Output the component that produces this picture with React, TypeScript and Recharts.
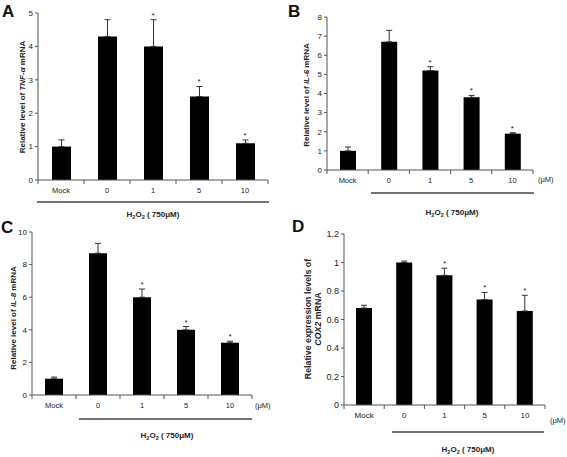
import React from "react";
import {ComposedChart, Bar, ErrorBar, Scatter, XAxis, YAxis} from "recharts";

// x categories (H2O2 750uM + inhibitor dose in uM)
const categories = ["Mock", "0", "1", "5", "10"];
const significant = [false, false, true, true, true];

// panel A - TNF-alpha
const tnfMean = [1.0, 4.3, 4.0, 2.5, 1.1];
const tnfErr = [0.2, 0.5, 0.8, 0.3, 0.1];
// panel B - IL-6
const il6Mean = [1.0, 6.7, 5.2, 3.8, 1.9];
const il6Err = [0.2, 0.6, 0.2, 0.1, 0.05];
// panel C - IL-8
const il8Mean = [1.0, 8.7, 6.0, 4.0, 3.2];
const il8Err = [0.1, 0.6, 0.5, 0.2, 0.1];
// panel D - COX2
const cox2Mean = [0.68, 1.0, 0.91, 0.74, 0.66];
const cox2Err = [0.02, 0.01, 0.05, 0.05, 0.11];

const ticksA = [0, 1, 2, 3, 4, 5];
const ticksB = [0, 1, 2, 3, 4, 5, 6, 7, 8];
const ticksC = [0, 2, 4, 6, 8, 10];
const ticksD = [0, 0.2, 0.4, 0.6, 0.8, 1, 1.2];

const FONT = "'Liberation Sans', Arial, sans-serif";
const AXIS = "#555";

const buildRows = (mean: number[], err: number[]) =>
  categories.map((c, i) => ({
    cat: c,
    mean: mean[i],
    err: [0, err[i]],
    star: significant[i] ? mean[i] + err[i] : null,
  }));

const CatTick = (props: any) => {
  const {x, y, payload, index, visibleTicksCount, width, fontSize} = props;
  const half = payload.offset || width / visibleTicksCount / 2;
  const axisY = y - 10;
  return (
    <g>
      <line x1={x - half} x2={x - half} y1={axisY} y2={axisY + 4} stroke={AXIS} />
      {index === visibleTicksCount - 1 && (
        <line x1={x + half} x2={x + half} y1={axisY} y2={axisY + 4} stroke={AXIS} />
      )}
      <text x={x} y={axisY + 13} textAnchor="middle" fontSize={fontSize || 7.5} fontFamily={FONT} fill="#222">
        {payload.value}
      </text>
    </g>
  );
};

const Star = (props: any) => {
  const {cx, cy, payload} = props;
  if (payload.star == null || !isFinite(cy)) return null;
  return (
    <text x={cx} y={cy - 2} textAnchor="middle" fontSize={8} fontFamily={FONT} fill="#222">
      *
    </text>
  );
};

const H2O2 = ({x, y}: {x: number; y: number}) => (
  <text x={x} y={y} textAnchor="middle" fontSize={8} fontWeight="bold" fontFamily={FONT} fill="#222">
    H<tspan fontSize={5.5} dy={2}>2</tspan>
    <tspan dy={-2}>O</tspan>
    <tspan fontSize={5.5} dy={2}>2</tspan>
    <tspan dy={-2}> ( 750μM)</tspan>
  </text>
);

interface PanelProps {
  left: number;
  top: number;
  w: number;
  h: number;
  mean: number[];
  err: number[];
  ticks: number[];
  margin: {top: number; right: number; bottom: number; left: number};
  yWidth: number;
  barSize: number;
  yFont?: number;
  xFont?: number;
  children: React.ReactNode;
}

const Panel = ({left, top, w, h, mean, err, ticks, margin, yWidth, barSize, yFont = 8, xFont = 7.5, children}: PanelProps) => (
  <div style={{position: "absolute", left, top, width: w, height: h}}>
    <ComposedChart width={w} height={h} data={buildRows(mean, err)} margin={margin}>
      <XAxis
        dataKey="cat"
        height={20}
        tickSize={4}
        tickMargin={6}
        tickLine={false}
        axisLine={{stroke: AXIS}}
        tick={<CatTick fontSize={xFont} />}
        interval={0}
      />
      <YAxis
        width={yWidth}
        domain={[ticks[0], ticks[ticks.length - 1]]}
        ticks={ticks}
        tickSize={3}
        tickMargin={2}
        axisLine={{stroke: AXIS}}
        tickLine={{stroke: AXIS}}
        tick={{fontSize: yFont, fontFamily: FONT, fill: "#222"}}
        interval={0}
      />
      <Bar dataKey="mean" fill="#000" barSize={barSize} isAnimationActive={false}>
        <ErrorBar dataKey="err" width={3} stroke="#333" strokeWidth={1} direction="y" />
      </Bar>
      <Scatter dataKey="star" shape={<Star />} isAnimationActive={false} />
    </ComposedChart>
    <svg
      width={w}
      height={h}
      style={{position: "absolute", left: 0, top: 0, overflow: "visible", pointerEvents: "none"}}
    >
      {children}
    </svg>
  </div>
);

const Letter = ({x, y, t}: {x: number; y: number; t: string}) => (
  <text x={x} y={y} fontSize={17} fontWeight="bold" fontFamily={FONT} fill="#111">
    {t}
  </text>
);

const YTitle = ({x, y, pre, gene, post, size = 8}: {x: number; y: number; pre: string; gene: string; post: string; size?: number}) => (
  <text
    x={x}
    y={y}
    transform={`rotate(-90 ${x} ${y})`}
    textAnchor="middle"
    dominantBaseline="central"
    fontSize={size}
    fontWeight="bold"
    fontFamily={FONT}
    fill="#222"
  >
    {pre}
    <tspan fontStyle="italic">{gene}</tspan>
    {post}
  </text>
);

const Unit = ({x, y, size = 7.5}: {x: number; y: number; size?: number}) => (
  <text x={x} y={y} fontSize={size} fontFamily={FONT} fill="#222" dominantBaseline="central">
    (μM)
  </text>
);

export default function App() {
  return (
    <div style={{position: "absolute", left: 0, top: 0, width: 567, height: 457, background: "#fff"}}>
      <Panel left={0} top={0} w={285} h={220} mean={tnfMean} err={tnfErr} ticks={ticksA}
        margin={{top: 13, right: 17, bottom: 20, left: 0}} yWidth={38} barSize={19}>
        <Letter x={2} y={17} t="A" />
        <YTitle x={22} y={97} pre="Relative level of " gene="TNF-α" post=" mRNA" />
        <line x1={37} x2={269} y1={202} y2={202} stroke="#444" strokeWidth={1.3} />
        <H2O2 x={153} y={217} />
      </Panel>
      <Panel left={285} top={0} w={282} h={220} mean={il6Mean} err={il6Err} ticks={ticksB}
        margin={{top: 17, right: 34, bottom: 30, left: 0}} yWidth={42} barSize={16}>
        <Letter x={3} y={17} t="B" />
        <YTitle x={21} y={95} pre="Relative level of " gene="IL-6" post=" mRNA" />
        <Unit x={253} y={179} />
        <line x1={86} x2={249} y1={193} y2={193} stroke="#444" strokeWidth={1.3} />
        <H2O2 x={167} y={215} />
      </Panel>
      <Panel left={0} top={220} w={285} h={237} mean={il8Mean} err={il8Err} ticks={ticksC}
        margin={{top: 12, right: 33, bottom: 42, left: 0}} yWidth={32} barSize={18}>
        <Letter x={1} y={13} t="C" />
        <YTitle x={13} y={98} pre="Relative level of " gene="IL-8" post=" mRNA" />
        <Unit x={255} y={185} />
        <line x1={79} x2={252} y1={199} y2={199} stroke="#444" strokeWidth={1.3} />
        <H2O2 x={167} y={218} />
      </Panel>
      <Panel left={285} top={220} w={282} h={237} mean={cox2Mean} err={cox2Err} ticks={ticksD}
        margin={{top: 14, right: 22, bottom: 32, left: 0}} yWidth={59} barSize={16} yFont={9} xFont={8}>
        <Letter x={7} y={12} t="D" />
        <YTitle x={23} y={99} size={8.8} pre="Relative expression levels of" gene="" post="" />
        <YTitle x={33} y={99} size={8.8} pre="" gene="COX2" post=" mRNA" />
        <Unit x={265} y={200} size={7.5} />
        <line x1={107} x2={259} y1={212} y2={212} stroke="#444" strokeWidth={1.3} />
        <H2O2 x={183} y={232} />
      </Panel>
    </div>
  );
}
